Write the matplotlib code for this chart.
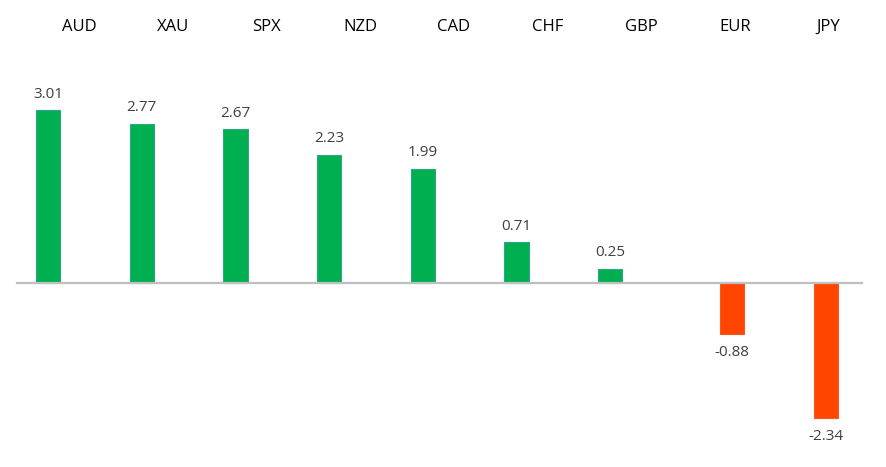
import numpy as np
import matplotlib.pyplot as plt

plt.rcParams['font.family'] = ['Open Sans', 'DejaVu Sans']

categories = ['AUD', 'XAU', 'SPX', 'NZD', 'CAD', 'CHF', 'GBP', 'EUR', 'JPY']
values = np.array([3.01, 2.77, 2.67, 2.23, 1.99, 0.71, 0.25, -0.88, -2.34])

pos_color = '#00B050'
neg_color = '#FF4500'
gap = 0.3  # extra space before the negative group

fig = plt.figure(figsize=(8.86, 4.67), dpi=100)
ax = fig.add_axes([0, 0, 1, 1])

x = np.arange(len(values)) + gap * (values < 0)
colors = [pos_color if v >= 0 else neg_color for v in values]
edges = ['#2EA587' if v >= 0 else '#F25A1E' for v in values]
ax.bar(x, values, width=0.26, color=colors, edgecolor=edges, linewidth=0.8, zorder=2)

ax.axhline(0, xmin=17 / 886, xmax=862 / 886, color='#BFBFBF', linewidth=1.6, zorder=3)

for xi, v in zip(x, values):
    if v >= 0:
        ax.annotate(f"{v:.2f}", (xi, v), xytext=(0, 6), textcoords='offset points',
                    ha='center', va='bottom', fontsize=11, color='#404040')
    else:
        ax.annotate(f"{v:.2f}", (xi, v), xytext=(0, -8), textcoords='offset points',
                    ha='center', va='top', fontsize=11, color='#404040')

# category labels along the top
for i, c in enumerate(categories):
    ax.text(i + 0.33, 4.45, c, ha='center', va='center', fontsize=12, color='black')

ax.set_xlim(-0.512, 8.943)
ax.set_ylim(-3.2, 4.92)
ax.axis('off')

fig.savefig('out.png', dpi=100)
